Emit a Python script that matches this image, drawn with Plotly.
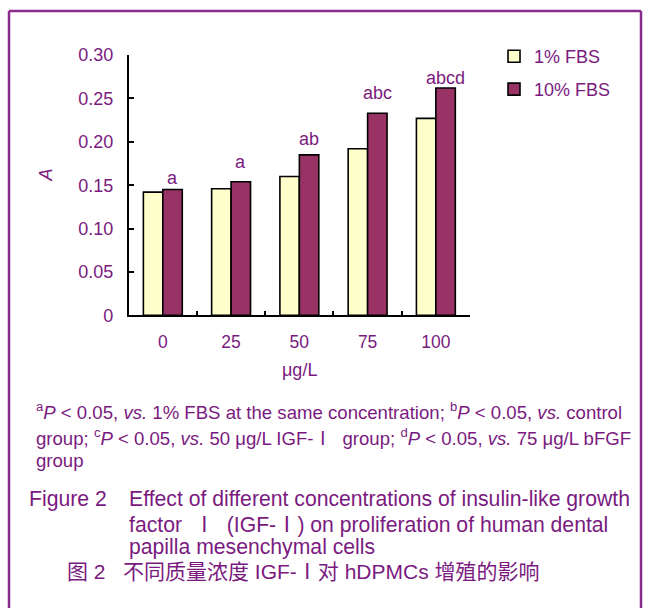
import plotly.graph_objects as go

# Data
concentrations = ["0", "25", "50", "75", "100"]
fbs_1 = [0.142, 0.146, 0.160, 0.192, 0.227]
fbs_10 = [0.145, 0.154, 0.185, 0.233, 0.262]
sig_letters = ["a", "a", "ab", "abc", "abcd"]
sig_label_y = [0.158, 0.177, 0.203, 0.256, 0.274]
y_ticks = [0, 0.05, 0.10, 0.15, 0.20, 0.25, 0.30]
y_tick_text = ["0", "0.05", "0.10", "0.15", "0.20", "0.25", "0.30"]

W, H = 651, 620
PURPLE = "#7a1a80"
FRAME = "#8a2b8e"
FONT = "Liberation Sans, Arial, sans-serif"
CJK_FONT = "Liberation Sans, Noto Sans CJK SC, sans-serif"
ROMAN_ONE = '<span style="font-family:Noto Sans CJK SC">Ⅰ</span>'
NBSP = "\u00a0"


def px(x):
    return x / W


def py(y):
    return 1 - y / H


fig = go.Figure()
fig.add_trace(go.Bar(
    x=concentrations, y=fbs_1, name="1% FBS",
    marker=dict(color="#ffffcc", line=dict(color="black", width=1.6)),
    legendgroup="g1",
))
fig.add_trace(go.Bar(
    x=concentrations, y=fbs_10, name="10% FBS",
    marker=dict(color="#993366", line=dict(color="black", width=1.6)),
    legendgroup="g2",
))

annotations = []
# significance letters over the 10% FBS bars
for i, (txt, yv) in enumerate(zip(sig_letters, sig_label_y)):
    annotations.append(dict(
        x=i + 0.143, y=yv, xref="x", yref="y", text=txt, showarrow=False,
        font=dict(family=FONT, size=18, color=PURPLE),
        xanchor="center", yanchor="middle",
    ))

# axis titles
annotations.append(dict(
    x=0.5, y=py(372.5), xref="x domain", yref="paper", text="μg/L", showarrow=False,
    font=dict(family=FONT, size=18, color=PURPLE), xanchor="center", yanchor="middle",
))
annotations.append(dict(
    x=px(46), y=py(171), xref="paper", yref="paper", text="<i>A</i>", showarrow=False,
    textangle=-90, font=dict(family=FONT, size=18, color=PURPLE),
    xanchor="center", yanchor="middle",
))

# footnote
foot_lines = [
    "<sup>a</sup><i>P</i> < 0.05, <i>vs.</i> 1% FBS at the same concentration; "
    "<sup>b</sup><i>P</i> < 0.05, <i>vs.</i> control",
    "group; <sup>c</sup><i>P</i> < 0.05, <i>vs.</i> 50 μg/L IGF-" + ROMAN_ONE + NBSP + " group; "
    "<sup>d</sup><i>P</i> < 0.05, <i>vs.</i> 75 μg/L bFGF",
    "group",
]
for k, line in enumerate(foot_lines):
    annotations.append(dict(
        x=px(34), y=py(414.6 + 25.7 * k), xref="paper", yref="paper", text=line,
        showarrow=False, font=dict(family=FONT, size=18.6, color=PURPLE),
        xanchor="left", yanchor="middle", align="left",
    ))

# caption
annotations.append(dict(
    x=px(27), y=py(505), xref="paper", yref="paper", text="Figure 2",
    showarrow=False, font=dict(family=FONT, size=21.2, color=PURPLE),
    xanchor="left", yanchor="middle",
))
caption_lines = [
    "Effect of different concentrations of insulin-like growth",
    "factor" + NBSP + " " + ROMAN_ONE + NBSP + " (IGF-" + ROMAN_ONE + ") on proliferation of human dental",
    "papilla mesenchymal cells",
]
for k, line in enumerate(caption_lines):
    annotations.append(dict(
        x=px(127), y=py(505 + 24.7 * k), xref="paper", yref="paper", text=line,
        showarrow=False, font=dict(family=FONT, size=21.2, color=PURPLE),
        xanchor="left", yanchor="middle",
    ))
annotations.append(dict(
    x=px(65), y=py(579), xref="paper", yref="paper",
    text="图 2   不同质量浓度 IGF-" + ROMAN_ONE + "对 hDPMCs 增殖的影响",
    showarrow=False, font=dict(family=CJK_FONT, size=21, color=PURPLE),
    xanchor="left", yanchor="middle",
))

# frame around the figure (open at the bottom)
frame = dict(color=FRAME, width=2.5)
top = py(1)
shapes = [
    dict(type="line", xref="paper", yref="paper", x0=px(9), x1=px(9), y0=0, y1=top, line=frame),
    dict(type="line", xref="paper", yref="paper", x0=px(9), x1=px(641), y0=top, y1=top, line=frame),
    dict(type="line", xref="paper", yref="paper", x0=px(641), x1=px(641), y0=0, y1=top, line=frame),
]

fig.update_layout(
    width=W, height=H,
    margin=dict(l=0, r=0, t=0, b=0),
    paper_bgcolor="white", plot_bgcolor="white",
    barmode="group", bargap=0.43, bargroupgap=0,
    font=dict(family=FONT, size=18, color=PURPLE),
    legend=dict(
        x=px(494), y=py(29), xanchor="left", yanchor="top",
        font=dict(family=FONT, size=18, color=PURPLE),
        traceorder="grouped", tracegroupgap=6.5, bgcolor="rgba(0,0,0,0)",
    ),
    xaxis=dict(
        domain=[px(128.7), px(470)], type="category", range=[-0.5, 4.5],
        showline=True, linecolor="black", linewidth=1.5,
        ticks="inside", tickson="boundaries", ticklen=5, tickwidth=1.5, tickcolor="black",
        tickfont=dict(family=FONT, size=17.5, color=PURPLE),
        ticklabelstandoff=10, showgrid=False, zeroline=False,
    ),
    yaxis=dict(
        domain=[py(315.5), py(46.6)], range=[0, 0.30],
        tickvals=y_ticks, ticktext=y_tick_text,
        showline=True, linecolor="black", linewidth=1.5,
        ticks="inside", ticklen=6, tickwidth=1.5, tickcolor="black",
        tickfont=dict(family=FONT, size=18, color=PURPLE),
        ticklabelstandoff=10, showgrid=False, zeroline=False,
    ),
    annotations=annotations,
    shapes=shapes,
)

fig.write_html("out.html")
